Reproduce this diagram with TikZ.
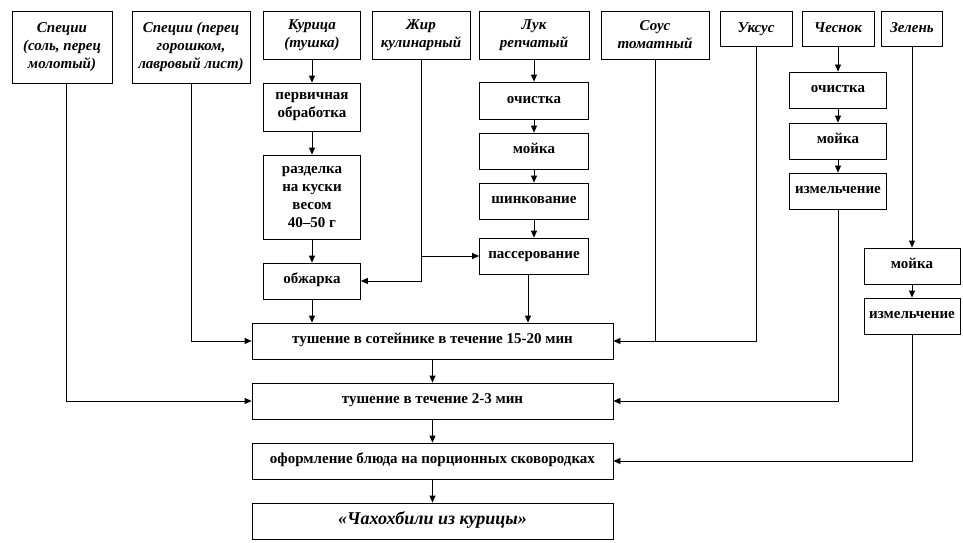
\documentclass[tikz,border=0pt]{standalone}
\usepackage{fontspec}
\setmainfont{Liberation Serif}
\usetikzlibrary{arrows.meta,calc}
\begin{document}
\begin{tikzpicture}[x=1pt,y=-1pt,
  frame/.style={draw,line width=0.8pt,inner sep=1pt,font=\fontsize{15}{18}\selectfont\bfseries},
  box/.style={frame,align=center},
  inbox/.style={box,font=\fontsize{15}{18}\selectfont\bfseries\itshape},
  sbox/.style={frame,text height=0.56em,text depth=0em},
  sinbox/.style={sbox,text height=0.74em,font=\fontsize{15}{18}\selectfont\bfseries\itshape},
  arr/.style={line width=0.8pt,-{Triangle[length=7pt,width=6pt]}},
  ln/.style={line width=0.8pt}]
\useasboundingbox (0,0) rectangle (963,543);
% inputs
\node[inbox,minimum width=100pt,minimum height=72pt] (sp1) at (62,47) {Специи\\(соль, перец\\молотый)};
\node[inbox,minimum width=118pt,minimum height=72pt] (sp2) at (191,47) {Специи (перец\\горошком,\\лавровый лист)};
\node[inbox,minimum width=97pt,minimum height=48pt] (kur) at (312,35) {Курица\\(тушка)};
\node[inbox,minimum width=98pt,minimum height=48pt] (zhir) at (421,35) {Жир\\кулинарный};
\node[inbox,minimum width=110pt,minimum height=48pt] (luk) at (534,35) {Лук\\репчатый};
\node[inbox,minimum width=108pt,minimum height=48pt] (sous) at (655,35) {Соус\\томатный};
\node[sinbox,minimum width=72pt,minimum height=35pt] (uks) at (756,28.5) {Уксус};
\node[sinbox,minimum width=72pt,minimum height=35pt] (chesn) at (838,28.5) {Чеснок};
\node[sinbox,minimum width=61pt,minimum height=35pt] (zel) at (912,28.5) {Зелень};
% chicken chain
\node[box,minimum width=97pt,minimum height=48pt] (perv) at (312,107) {первичная\\обработка};
\node[box,minimum width=97pt,minimum height=84pt] (razd) at (312,197) {разделка\\на куски\\весом\\40–50 г};
\node[sbox,minimum width=97pt,minimum height=36pt] (obzh) at (312,281) {обжарка};
% onion chain
\node[sbox,minimum width=109pt,minimum height=37pt] (ochL) at (534,100.5) {очистка};
\node[sbox,minimum width=109pt,minimum height=36pt] (moyL) at (534,151) {мойка};
\node[sbox,minimum width=109pt,minimum height=36pt] (shin) at (534,201) {шинкование};
\node[sbox,minimum width=109pt,minimum height=36pt] (pass) at (534,256) {пассерование};
% garlic chain
\node[sbox,minimum width=97pt,minimum height=36pt] (ochC) at (838,90) {очистка};
\node[sbox,minimum width=97pt,minimum height=36pt] (moyC) at (838,141) {мойка};
\node[sbox,minimum width=97pt,minimum height=36pt] (izmC) at (838,191) {измельчение};
% greens chain
\node[sbox,minimum width=96pt,minimum height=36pt] (moyZ) at (912,266) {мойка};
\node[sbox,minimum width=96pt,minimum height=36pt] (izmZ) at (912,316) {измельчение};
% main chain
\node[sbox,minimum width=361pt,minimum height=36pt] (t1) at (432.5,341) {тушение в сотейнике в течение 15-20 мин};
\node[sbox,minimum width=361pt,minimum height=36pt] (t2) at (432.5,401) {тушение в течение 2-3 мин};
\node[sbox,minimum width=361pt,minimum height=36pt] (of) at (432.5,461) {оформление блюда на порционных сковородках};
\node[sinbox,minimum width=361pt,minimum height=36pt,font=\fontsize{18}{20}\selectfont\bfseries\itshape] (fin) at (432.5,521) {«Чахохбили из курицы»};
% connectors
\draw[arr] (kur) -- (perv);
\draw[arr] (perv) -- (razd);
\draw[arr] (razd) -- (obzh);
\draw[arr] (obzh) -- (t1.north -| obzh);
\draw[arr] (zhir.south) |- (obzh.east);
\draw[arr] (zhir.south |- pass.west) -- (pass.west);
\draw[arr] (luk) -- (ochL);
\draw[arr] (ochL) -- (moyL);
\draw[arr] (moyL) -- (shin);
\draw[arr] (shin) -- (pass);
\coordinate (pd) at ([xshift=-6pt]pass.south);
\draw[arr] (pd) -- (pd |- t1.north);
\draw[arr] (sp2.south) |- (t1.west);
\draw[arr] ([xshift=4pt]sp1.south) |- (t2.west);
\draw[arr] (uks.south) |- (t1.east);
\draw[ln] (sous.south) -- (sous.south |- t1.east);
\draw[arr] (chesn) -- (ochC);
\draw[arr] (ochC) -- (moyC);
\draw[arr] (moyC) -- (izmC);
\draw[arr] (izmC.south) |- (t2.east);
\draw[arr] (zel) -- (moyZ);
\draw[arr] (moyZ) -- (izmZ);
\draw[arr] (izmZ.south) |- (of.east);
\draw[arr] (t1) -- (t2);
\draw[arr] (t2) -- (of);
\draw[arr] (of) -- (fin);
\end{tikzpicture}
\end{document}
